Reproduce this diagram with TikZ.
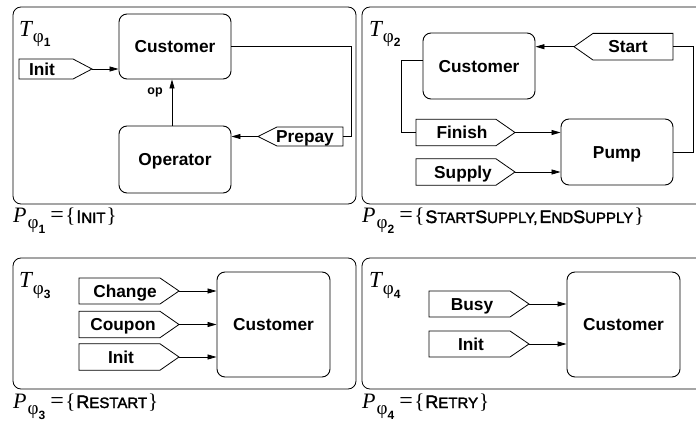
\documentclass[tikz,border=0pt]{standalone}
\usepackage{fontspec}
\setmainfont{Liberation Serif}
\setsansfont{Liberation Sans}
\newfontfamily\scfont[FakeBold=2]{Liberation Sans}
\usetikzlibrary{arrows.meta}
\newcommand\lblfont{\fontsize{17.3}{17.3}\selectfont\sffamily\bfseries}
\newcommand\smc[2]{{\fontsize{18}{18}\selectfont\scfont #1}{\fontsize{15}{15}\selectfont\scfont #2}}
\newcommand\Tphi[1]{{\fontsize{23}{23}\selectfont\itshape T}\kern1pt\raisebox{-6pt}{\fontsize{19}{19}\selectfont φ}\raisebox{-10pt}{\fontsize{12}{12}\selectfont\sffamily\bfseries #1}}
\newcommand\Pphi[2]{{\fontsize{22}{22}\selectfont\itshape P}\kern1pt\raisebox{-6pt}{\fontsize{19}{19}\selectfont φ}\raisebox{-11pt}{\fontsize{12}{12}\selectfont\sffamily\bfseries #1}\kern5pt{\fontsize{24}{24}\selectfont=}\kern1.5pt{\fontsize{21}{21}\selectfont\{}\kern1pt#2\kern1pt{\fontsize{21}{21}\selectfont\}}}
\tikzset{
  frame/.style={draw, line width=0.8pt, rounded corners=8pt},
  box/.style={draw, line width=0.9pt, rounded corners=8pt, font=\lblfont, text height=12.4pt, text depth=0pt, inner sep=0pt},
  flagline/.style={draw, line width=0.8pt},
  lbl/.style={font=\lblfont, anchor=base, inner sep=0pt},
  arr/.style={line width=0.8pt, -{Triangle[length=9pt,width=5pt]}},
  conn/.style={line width=0.8pt},
}
% right-pointing flag: name, left x, tip x, y centre, half height, text x, text
\newcommand\flagR[7]{%
  \draw[flagline] (#2,{#4-#5}) -- ({#3-19},{#4-#5}) -- (#3,#4) -- ({#3-19},{#4+#5}) -- (#2,{#4+#5}) -- cycle;
  \coordinate (#1tip) at (#3,#4);
  \coordinate (#1back) at (#2,#4);
  \node[lbl] (#1) at (#6,{#4+6.3}) {#7};}
% left-pointing flag: name, tip x, right x, y centre, half height, text x, text
\newcommand\flagL[7]{%
  \draw[flagline] (#3,{#4-#5}) -- ({#2+19},{#4-#5}) -- (#2,#4) -- ({#2+19},{#4+#5}) -- (#3,{#4+#5}) -- cycle;
  \coordinate (#1tip) at (#2,#4);
  \coordinate (#1back) at (#3,#4);
  \node[lbl] (#1) at (#6,{#4+6.3}) {#7};}
\begin{document}
\begin{tikzpicture}[x=1pt,y=-1pt]
\useasboundingbox (0,0) rectangle (696,430);
\clip (0,0) rectangle (696,430);
% frames
\draw[frame] (13,7) rectangle (356,204);
\draw[frame] (362,7) rectangle (712,204);
\draw[frame] (13,258) rectangle (356,389);
\draw[frame] (362,258) rectangle (712,389);
% panel labels
\node[anchor=base west, inner sep=0pt] (t1) at (19,37) {\Tphi{1}};
\node[anchor=base west, inner sep=0pt] (t2) at (369,37) {\Tphi{2}};
\node[anchor=base west, inner sep=0pt] (t3) at (19,288) {\Tphi{3}};
\node[anchor=base west, inner sep=0pt] (t4) at (369,288) {\Tphi{4}};
\node[anchor=base west, inner sep=0pt] (p1) at (13,223) {\Pphi{1}{\smc{I}{NIT}}};
\node[anchor=base west, inner sep=0pt] (p2) at (362,223) {\Pphi{2}{\smc{S}{TART}\smc{S}{UPPLY}{\fontsize{15}{15}\selectfont\scfont,}\kern2pt\smc{E}{ND}\smc{S}{UPPLY}}};
\node[anchor=base west, inner sep=0pt] (p3) at (13,408) {\Pphi{3}{\smc{R}{ESTART}}};
\node[anchor=base west, inner sep=0pt] (p4) at (362,408) {\Pphi{4}{\smc{R}{ETRY}}};
% ---- panel 1
\node[box, minimum width=112pt, minimum height=65pt] (cust1) at (175,46.5) {Customer};
\node[box, minimum width=112pt, minimum height=67pt] (oper1) at (175,159.5) {Operator};
\flagR{init1}{19}{92}{69}{10}{42}{Init}
\flagL{prepay}{258}{343}{136.5}{9.5}{305}{Prepay}
\draw[arr] (init1tip) -- (init1tip -| cust1.west);
\draw[arr] ([xshift=-3pt]oper1.north) -- ([xshift=-3pt]cust1.south);
\node[font=\fontsize{12.5}{12.5}\selectfont\sffamily\bfseries, anchor=base, inner sep=0pt] (op) at (155,95) {op};
\draw[conn] (cust1.east) -- ++(120,0) |- (prepayback);
\draw[arr] (prepaytip) -- (prepaytip -| oper1.east);
% ---- panel 2
\node[box, minimum width=112pt, minimum height=66pt] (cust2) at (479,66) {Customer};
\node[box, minimum width=112pt, minimum height=66pt] (pump) at (617,152) {Pump};
\flagL{start}{574}{673}{46.7}{13.3}{628}{Start}
\flagR{finish}{416}{515}{132.5}{13.2}{462}{Finish}
\flagR{supply}{416}{515}{172}{13.2}{463}{Supply}
\draw[arr] (starttip) -- (starttip -| cust2.east);
\draw[conn] (startback) -- ++(20,0) |- (pump.east);
\draw[conn] ([yshift=6pt]cust2.west) -- ++(-21,0) |- (finishback);
\draw[arr] (finishtip) -- (finishtip -| pump.west);
\draw[arr] (supplytip) -- (supplytip -| pump.west);
% ---- panel 3
\node[box, minimum width=113pt, minimum height=105pt] (cust3) at (273.5,324.5) {Customer};
\flagR{change}{79}{179}{291}{13}{125}{Change}
\flagR{coupon}{79}{179}{324.5}{13.2}{123}{Coupon}
\flagR{initc}{79}{179}{357}{13.2}{121}{Init}
\draw[arr] (changetip) -- (changetip -| cust3.west);
\draw[arr] (coupontip) -- (coupontip -| cust3.west);
\draw[arr] (initctip) -- (initctip -| cust3.west);
% ---- panel 4
\node[box, minimum width=113pt, minimum height=105pt] (cust4) at (623.5,324.5) {Customer};
\flagR{busy}{429}{529}{304}{13}{472}{Busy}
\flagR{initd}{429}{529}{344}{13}{471}{Init}
\draw[arr] (busytip) -- (busytip -| cust4.west);
\draw[arr] (initdtip) -- (initdtip -| cust4.west);
\end{tikzpicture}
\end{document}
